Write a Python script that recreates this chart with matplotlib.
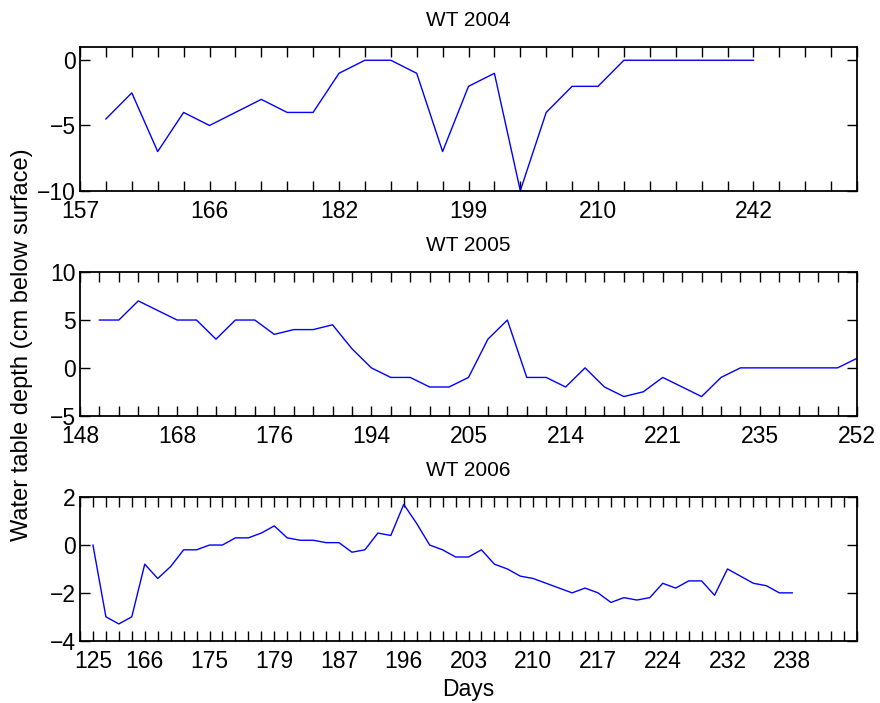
import matplotlib
matplotlib.use("Agg")
import matplotlib.pyplot as plt
import numpy as np

plt.rcParams['font.family'] = ['Liberation Sans', 'DejaVu Sans']

# ---- data (index-based x positions, tick labels are days) ----
wt2004 = [-4.5, -2.5, -7, -4, -5, -4, -3, -4, -4, -1, 0, 0, -1, -7, -2, -1,
          -10, -4, -2, -2, 0, 0, 0, 0, 0, 0]
wt2004_xmax = 30
wt2004_label_pos = [0, 5, 10, 15, 20, 26]
wt2004_labels = ['157', '166', '182', '199', '210', '242']

wt2005 = [5, 5, 7, 6, 5, 5, 3, 5, 5, 3.5, 4, 4, 4.5, 2, 0, -1, -1, -2, -2, -1,
          3, 5, -1, -1, -2, 0, -2, -3, -2.5, -1, -2, -3, -1, 0, 0, 0, 0, 0, 0, 1]
wt2005_xmax = 40
wt2005_label_pos = [0, 5, 10, 15, 20, 25, 30, 35, 40]
wt2005_labels = ['148', '168', '176', '194', '205', '214', '221', '235', '252']

wt2006 = [0, -3, -3.3, -3, -0.8, -1.4, -0.9, -0.2, -0.2, 0, 0, 0.3, 0.3, 0.5,
          0.8, 0.3, 0.2, 0.2, 0.1, 0.1, -0.3, -0.2, 0.5, 0.4, 1.7, 0.9, 0,
          -0.2, -0.5, -0.5, -0.2, -0.8, -1.0, -1.3, -1.4, -1.6, -1.8, -2.0,
          -1.8, -2.0, -2.4, -2.2, -2.3, -2.2, -1.6, -1.8, -1.5, -1.5, -2.1,
          -1.0, -1.3, -1.6, -1.7, -2.0, -2.0]
wt2006_xmax = 60
wt2006_label_pos = [1, 5, 10, 15, 20, 25, 30, 35, 40, 45, 50, 55]
wt2006_labels = ['125', '166', '175', '179', '187', '196', '203', '210',
                 '217', '224', '232', '238']

panels = [
    ("WT 2004", wt2004, wt2004_xmax, wt2004_label_pos, wt2004_labels, (-10, 1), [-10, -5, 0]),
    ("WT 2005", wt2005, wt2005_xmax, wt2005_label_pos, wt2005_labels, (-5, 10), [-5, 0, 5, 10]),
    ("WT 2006", wt2006, wt2006_xmax, wt2006_label_pos, wt2006_labels, (-4, 2), [-4, -2, 0, 2]),
]

fig = plt.figure(figsize=(8.8, 7.03), dpi=100)
left, width, height = 80 / 880, 777 / 880, 143.5 / 703
bottoms = [1 - 190.7 / 703, 1 - 415.7 / 703, 1 - 640.7 / 703]

axes = []
for (title, data, xmax, lpos, labs, ylim, yt), b in zip(panels, bottoms):
    ax = fig.add_axes([left, b, width, height])
    x = np.arange(1, len(data) + 1)
    ax.plot(x, data, color='#0000ff', lw=1.0)
    ax.set_xlim(0, xmax)
    ax.set_ylim(*ylim)
    ticks = np.arange(0, xmax + 1)
    ax.set_xticks(ticks)
    tl = [''] * len(ticks)
    for p, l in zip(lpos, labs):
        tl[p] = l
    ax.set_xticklabels(tl)
    ax.set_yticks(yt)
    ax.tick_params(axis='both', direction='in', length=7.5, width=1.0, top=True,
                   right=True, labelsize=16.5, colors='black')
    ax.tick_params(axis='x', pad=7)
    ax.tick_params(axis='y', pad=3)
    for s in ax.spines.values():
        s.set_linewidth(1.3)
    ax.set_title(title, fontsize=15, pad=15.5)
    axes.append(ax)

axes[2].set_xlabel("Days", fontsize=16.5, labelpad=3)
fig.text(0.025, 0.509, "Water table depth (cm below surface)", rotation=90,
         fontsize=17, ha='center', va='center')

fig.savefig("out.png", dpi=100)
